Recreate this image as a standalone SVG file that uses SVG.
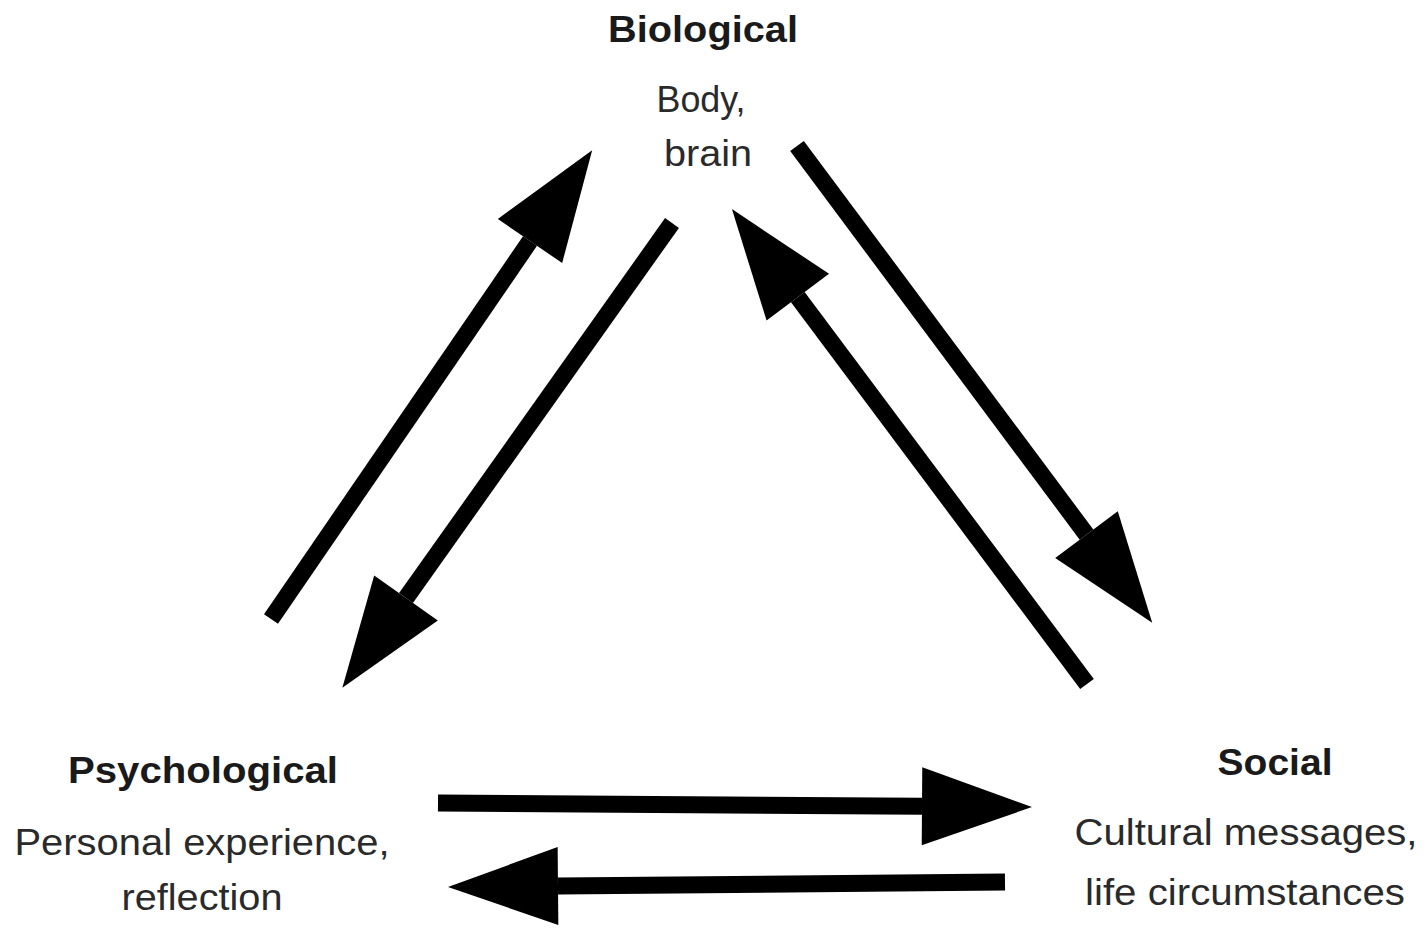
<svg xmlns="http://www.w3.org/2000/svg" width="1427" height="930" viewBox="0 0 1427 930">
<defs>
<marker id="head" markerUnits="userSpaceOnUse" markerWidth="120" markerHeight="90" viewBox="0 -45 120 90" refX="0" refY="0" orient="auto" overflow="visible">
<path d="M0,-39 L110,0 L0,39 Z" fill="#000"/>
</marker>
<style>
.shaft{stroke:#000;stroke-width:17;fill:none;stroke-linecap:butt;marker-end:url(#head)}
.title{font-family:"Liberation Sans",Arial,sans-serif;font-weight:bold;font-size:37px;fill:#1a1a1a;text-anchor:middle}
.sub{font-family:"Liberation Sans",Arial,sans-serif;font-size:36px;fill:#2a2a2a;text-anchor:middle}
</style>
</defs>
<rect width="1427" height="930" fill="#fff"/>
<g id="connectors">
<line class="shaft" x1="271" y1="619" x2="530" y2="241"/>
<line class="shaft" x1="672" y1="223" x2="406" y2="598"/>
<line class="shaft" x1="797" y1="146" x2="1086.5" y2="534.6"/>
<line class="shaft" x1="1087" y1="684" x2="797.8" y2="297.2"/>
<line class="shaft" x1="438" y1="803" x2="922" y2="806.3"/>
<line class="shaft" x1="1005" y1="882" x2="558" y2="886"/>
</g>
<g id="biological">
<text class="title" x="703" y="42" textLength="190" lengthAdjust="spacingAndGlyphs">Biological</text>
<text class="sub" x="701" y="112" textLength="89" lengthAdjust="spacingAndGlyphs">Body,</text>
<text class="sub" x="708" y="166" textLength="88" lengthAdjust="spacingAndGlyphs">brain</text>
</g>
<g id="psychological">
<text class="title" x="203" y="783" textLength="270" lengthAdjust="spacingAndGlyphs">Psychological</text>
<text class="sub" x="202" y="855" textLength="375" lengthAdjust="spacingAndGlyphs">Personal experience,</text>
<text class="sub" x="202" y="910" textLength="161" lengthAdjust="spacingAndGlyphs">reflection</text>
</g>
<g id="social">
<text class="title" x="1275" y="775" textLength="115" lengthAdjust="spacingAndGlyphs">Social</text>
<text class="sub" x="1246" y="845" textLength="343" lengthAdjust="spacingAndGlyphs">Cultural messages,</text>
<text class="sub" x="1245" y="905" textLength="320" lengthAdjust="spacingAndGlyphs">life circumstances</text>
</g>
</svg>
